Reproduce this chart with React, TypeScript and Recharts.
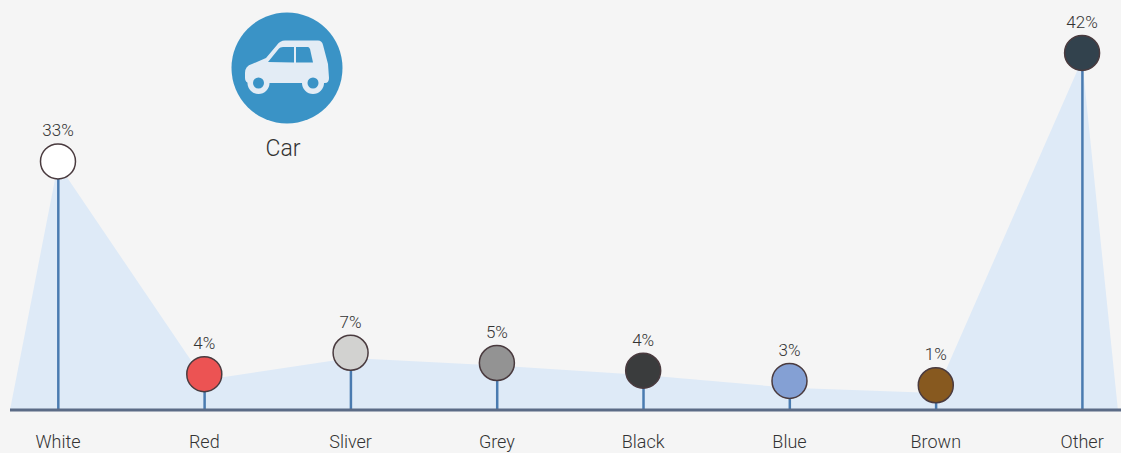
import { ComposedChart, Area, Bar, Line, XAxis, YAxis } from 'recharts'

const categories = ['White', 'Red', 'Sliver', 'Grey', 'Black', 'Blue', 'Brown', 'Other']
const shares = [33, 4, 7, 5, 4, 3, 1, 42]
// marker heights, they are not proportional to the printed shares
const heights = [29.1, 4.2, 6.7, 5.5, 4.6, 3.4, 2.9, 41.8]
const areaValues = [28.8, 3.5, 6.1, 5.2, 4.1, 2.6, 2, 41]
const markerColors = ['#ffffff', '#ec5353', '#d2d2d0', '#939393', '#3a3c3d', '#84a0d4', '#87591f', '#32424d']

const positions = [0, 1, 2, 3, 4, 5, 6, 7]
const areaStart = -0.328
const areaEnd = 7.245

const data = [
  { pos: areaStart, area: 0 },
  ...positions.map((pos, i) => ({
    pos,
    area: areaValues[i],
    height: heights[i],
    share: shares[i],
    color: markerColors[i],
  })),
  { pos: areaEnd, area: 0 },
]

const font = 'Roboto, sans-serif'

function Marker(props: any) {
  const { cx, cy, payload } = props
  if (payload.height == null) return <g key={payload.pos} />
  return (
    <g key={payload.pos}>
      <circle cx={cx} cy={cy} r={17.5} fill={payload.color} stroke="#4a3b3f" strokeWidth={1.5} />
      <text
        x={cx}
        y={cy - 25}
        textAnchor="middle"
        fontFamily={font}
        fontWeight={300}
        fontSize={17}
        fill="#333"
      >
        {payload.share}%
      </text>
    </g>
  )
}

function CarBadge() {
  return (
    <div style={{ position: 'absolute', left: 225, top: 6, width: 125, height: 160 }}>
      <svg width={125} height={125} viewBox="225 6 125 125" style={{ display: 'block' }}>
        <circle cx={287} cy={68} r={55.5} fill="#3a93c6" />
        <path
          d="M245 73 Q245 66 252 64 L266 58 L277 45 Q280 40.5 285 40.5 L318 40.5 Q322 40.5 323 45 L328 64 L329 78 Q329 83 325 83 L250 83 Q245 83 245 78 Z"
          fill="#e3ecf5"
        />
        <path d="M268 62 L279 48.5 Q280 47 283 47 L294 47 L294 62.5 Z" fill="#3a93c6" />
        <path d="M296 47 L308 47 Q309 47 310 49 L313 62.5 L296 62.5 Z" fill="#3a93c6" />
        <circle cx={258.5} cy={83} r={11} fill="#e3ecf5" />
        <circle cx={258.5} cy={83} r={5.5} fill="#3a93c6" />
        <circle cx={313} cy={83} r={11} fill="#e3ecf5" />
        <circle cx={313} cy={83} r={5.5} fill="#3a93c6" />
      </svg>
      <div
        style={{
          position: 'absolute',
          left: 0,
          width: 116,
          top: 129,
          textAlign: 'center',
          fontFamily: font,
          fontWeight: 300,
          fontSize: 23,
          color: '#333',
        }}
      >
        Car
      </div>
    </div>
  )
}

export default function App() {
  return (
    <div
      style={{
        position: 'fixed',
        left: 0,
        top: 0,
        width: 1121,
        height: 453,
        background: '#f5f5f5',
        overflow: 'hidden',
      }}
    >
      <ComposedChart
        width={1121}
        height={453}
        data={data}
        margin={{ top: 0, right: 0, bottom: 0, left: 10 }}
      >
        <XAxis
          type="number"
          dataKey="pos"
          domain={[areaStart, 7.266]}
          allowDataOverflow
          ticks={positions}
          tickFormatter={(v: number) => categories[v]}
          interval={0}
          height={43}
          tickLine={false}
          tickMargin={19}
          axisLine={{ stroke: '#5b6b86', strokeWidth: 3 }}
          tick={{ fontFamily: font, fontWeight: 300, fontSize: 18, fill: '#333' }}
        />
        <YAxis hide domain={[0, 48]} />
        <Area
          type="linear"
          dataKey="area"
          stroke="none"
          fill="#deeaf7"
          fillOpacity={1}
          isAnimationActive={false}
        />
        <Bar dataKey="height" barSize={2.5} fill="#4a7bb0" isAnimationActive={false} />
        <Line
          type="linear"
          dataKey="height"
          stroke="none"
          connectNulls
          dot={(p: any) => <Marker {...p} />}
          activeDot={false}
          isAnimationActive={false}
        />
      </ComposedChart>
      <CarBadge />
    </div>
  )
}
